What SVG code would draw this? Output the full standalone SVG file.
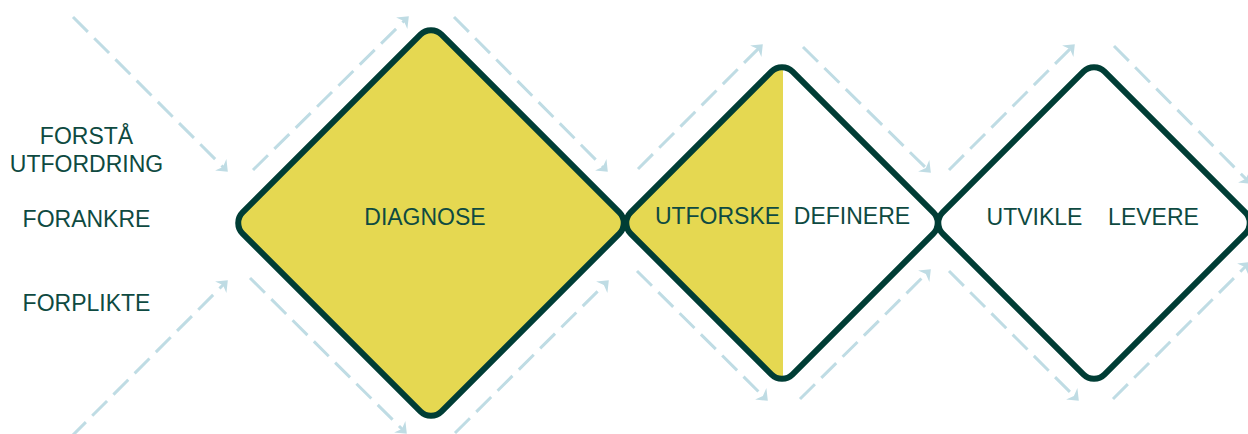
<svg xmlns="http://www.w3.org/2000/svg" width="1248" height="434" viewBox="0 0 1248 434">
  <style>
    .lbl { font-family: "Liberation Sans", Arial, sans-serif; font-size: 23px; fill: #0E4A41; text-anchor: middle; }
    .frame { fill: none; stroke: #003D35; stroke-width: 6; }
    .yellow { fill: #E5D851; stroke: none; }
    .flow { fill: none; stroke: #BFDCE4; stroke-width: 3; stroke-dasharray: 21 9; marker-end: url(#head); }
  </style>
  <defs>
    <marker id="head" markerUnits="userSpaceOnUse" markerWidth="20" markerHeight="20" viewBox="-10 -10 20 20" refX="0" refY="0" orient="auto">
      <path d="M4,0 L-6,-8 L-3,0 L-6,8 Z" fill="#BFDCE4"/>
    </marker>
    <!-- left half of the middle diamond -->
    <clipPath id="leftHalf">
      <rect x="626" y="0" width="157" height="434"/>
    </clipPath>
  </defs>
  <rect width="1248" height="434" fill="#FFFFFF"/>

  <!-- dashed flow arrows -->
  <g id="connectors">
    <line class="flow" x1="73" y1="17" x2="225" y2="169"/>
    <line class="flow" x1="253" y1="170" x2="406" y2="19"/>
    <line class="flow" x1="454" y1="17" x2="605" y2="169"/>
    <line class="flow" x1="638" y1="169" x2="760" y2="47"/>
    <line class="flow" x1="803" y1="47" x2="928" y2="170"/>
    <line class="flow" x1="949" y1="170" x2="1072" y2="47"/>
    <line class="flow" x1="1114" y1="46" x2="1248" y2="181"/>
    <line class="flow" x1="71" y1="437" x2="225" y2="283"/>
    <line class="flow" x1="250" y1="278" x2="404" y2="431"/>
    <line class="flow" x1="455" y1="433" x2="606" y2="283"/>
    <line class="flow" x1="637" y1="271" x2="765" y2="398"/>
    <line class="flow" x1="800" y1="399" x2="928" y2="272"/>
    <line class="flow" x1="949" y1="271" x2="1076" y2="398"/>
    <line class="flow" x1="1113" y1="399" x2="1247" y2="265"/>
  </g>

  <!-- side labels -->
  <g id="side-labels">
    <text class="lbl" x="86.5" y="144">FORSTÅ</text>
    <text class="lbl" x="86.5" y="172">UTFORDRING</text>
    <text class="lbl" x="86.5" y="227">FORANKRE</text>
    <text class="lbl" x="86.5" y="311">FORPLIKTE</text>
  </g>

  <!-- diamond 1: diagnose -->
  <g id="diagnose">
    <rect class="yellow" x="-140.7" y="-140.7" width="281.4" height="281.4" rx="15" transform="translate(431 223) rotate(45)"/>
    <rect class="frame" x="-140.7" y="-140.7" width="281.4" height="281.4" rx="15" transform="translate(431 223) rotate(45)"/>
    <text class="lbl" x="425" y="225">DIAGNOSE</text>
  </g>

  <!-- diamond 2: explore / define -->
  <g id="utforske-definere">
    <g clip-path="url(#leftHalf)">
      <rect class="yellow" x="-114.5" y="-114.5" width="229" height="229" rx="15" transform="translate(782 223) rotate(45)"/>
    </g>
    <rect class="frame" x="-114.5" y="-114.5" width="229" height="229" rx="15" transform="translate(782 223) rotate(45)"/>
    <text class="lbl" x="717.5" y="224">UTFORSKE</text>
    <text class="lbl" x="852" y="224">DEFINERE</text>
  </g>

  <!-- diamond 3: develop / deliver -->
  <g id="utvikle-levere">
    <rect class="frame" x="-114.5" y="-114.5" width="229" height="229" rx="15" transform="translate(1094 223) rotate(45)"/>
    <text class="lbl" x="1034.5" y="225">UTVIKLE</text>
    <text class="lbl" x="1153.5" y="225">LEVERE</text>
  </g>
</svg>
